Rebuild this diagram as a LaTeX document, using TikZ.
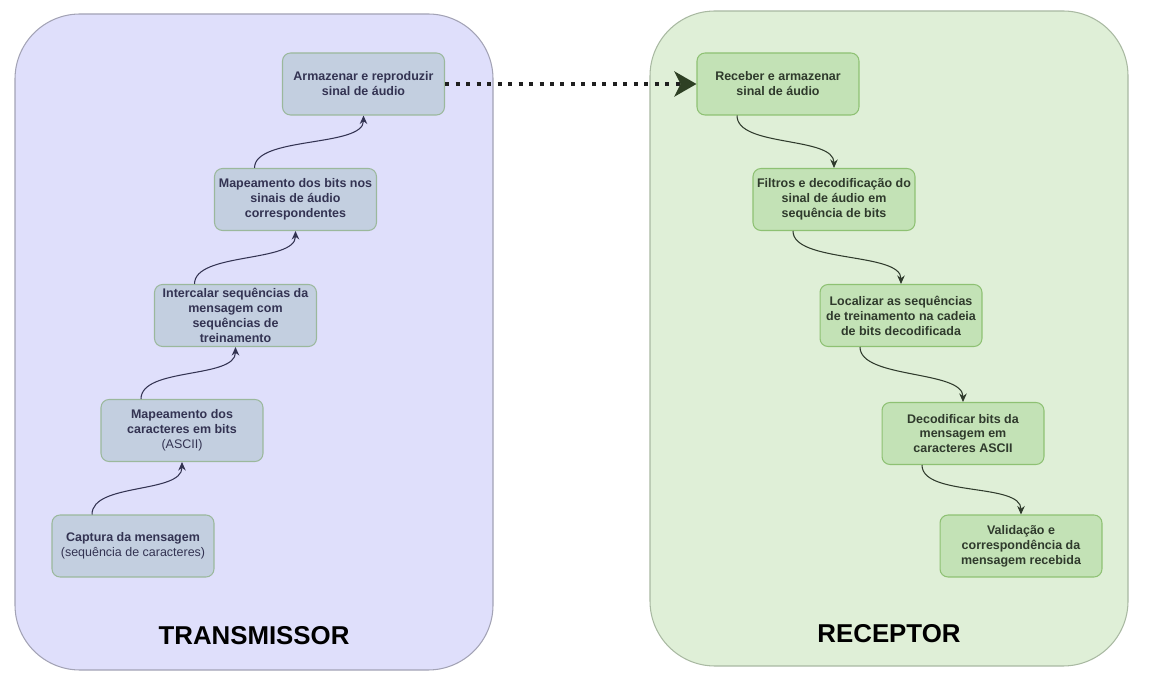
\documentclass[tikz,border=0pt]{standalone}
\usepackage{fontspec}
\setmainfont{Liberation Sans}
\usetikzlibrary{arrows.meta}
\definecolor{lavfundo}{HTML}{DFDFFB}
\definecolor{lavborda}{HTML}{A3A3B5}
\definecolor{verdefundo}{HTML}{DFEFD7}
\definecolor{verdeborda}{HTML}{A9B9A2}
\definecolor{caixaazul}{HTML}{C3CFE0}
\definecolor{bordaazul}{HTML}{9BB89C}
\definecolor{caixaverde}{HTML}{C3E2B6}
\definecolor{bordaverde}{HTML}{8EC173}
\definecolor{textoazul}{HTML}{333352}
\definecolor{textoverde}{HTML}{2F3A2C}
\definecolor{setaverde}{HTML}{2E4024}
\begin{document}
\begin{tikzpicture}[x=0.02cm,y=-0.02cm,
	caixa/.style={draw,line width=0.6pt,rounded corners=0.16cm,minimum width=3.24cm,minimum height=1.24cm,align=center,
		font=\fontsize{7.1}{8.5}\selectfont\bfseries,inner sep=1pt},
	tx/.style={caixa,fill=caixaazul,draw=bordaazul,text=textoazul},
	rx/.style={caixa,fill=caixaverde,draw=bordaverde,text=textoverde},
	ligtx/.style={draw=textoazul,line width=0.6pt,-{Stealth[length=0.17cm,width=0.15cm]}},
	ligrx/.style={draw=textoverde,line width=0.6pt,-{Stealth[length=0.17cm,width=0.15cm]}},
	titulo/.style={font=\fontsize{14.7}{16}\selectfont\bfseries}]
	\useasboundingbox (0,0) rectangle (1149,685);
	\draw[fill=lavfundo,draw=lavborda,line width=0.6pt,rounded corners=1.3cm] (15,14) rectangle (493,670);
	\draw[fill=verdefundo,draw=verdeborda,line width=0.6pt,rounded corners=1.3cm] (650,11) rectangle (1128,666);
	\node[titulo] (ttx) at (254,636) {TRANSMISSOR};
	\node[titulo] (trx) at (889,634) {RECEPTOR};
	\node[tx] (cap) at (133,546) {Captura da mensagem\\\mdseries(sequência de caracteres)};
	\node[tx] (mapc) at (182,430.5) {Mapeamento dos\\caracteres em bits\\\mdseries(ASCII)};
	\node[tx] (inter) at (235.5,315.5) {Intercalar sequências da\\mensagem com\\sequências de\\treinamento};
	\node[tx] (mapb) at (295.5,199.5) {Mapeamento dos bits nos\\sinais de áudio\\correspondentes};
	\node[tx] (arm) at (363.5,84) {Armazenar e reproduzir\\sinal de áudio};
	\node[rx] (rec) at (778,84) {Receber e armazenar\\sinal de áudio};
	\node[rx] (filt) at (834,199.5) {Filtros e decodificação do\\sinal de áudio em\\sequência de bits};
	\node[rx] (loc) at (901,315.5) {Localizar as sequências\\de treinamento na cadeia\\de bits decodificada};
	\node[rx] (dec) at (963,433.5) {Decodificar bits da\\mensagem em\\caracteres ASCII};
	\node[rx] (val) at (1021,546) {Validação e\\correspondência da\\mensagem recebida};
	\draw[ligtx] ([xshift=-0.82cm]cap.north) .. controls +(0,-32) and +(0,32) .. (mapc.south);
	\draw[ligtx] ([xshift=-0.82cm]mapc.north) .. controls +(0,-32) and +(0,32) .. (inter.south);
	\draw[ligtx] ([xshift=-0.82cm]inter.north) .. controls +(0,-32) and +(0,32) .. (mapb.south);
	\draw[ligtx] ([xshift=-0.82cm]mapb.north) .. controls +(0,-32) and +(0,32) .. (arm.south);
	\draw[ligrx] ([xshift=-0.82cm]rec.south) .. controls +(0,32) and +(0,-32) .. (filt.north);
	\draw[ligrx] ([xshift=-0.82cm]filt.south) .. controls +(0,32) and +(0,-32) .. (loc.north);
	\draw[ligrx] ([xshift=-0.82cm]loc.south) .. controls +(0,32) and +(0,-32) .. (dec.north);
	\draw[ligrx] ([xshift=-0.82cm]dec.south) .. controls +(0,32) and +(0,-32) .. (val.north);
	\draw[line width=0.08cm,draw=black!88,dash pattern=on 0.08cm off 0.13cm,
		-{Stealth[length=0.44cm,width=0.5cm,inset=0.12cm,fill=setaverde,color=setaverde]}] (arm.east) -- (rec.west);
\end{tikzpicture}
\end{document}
